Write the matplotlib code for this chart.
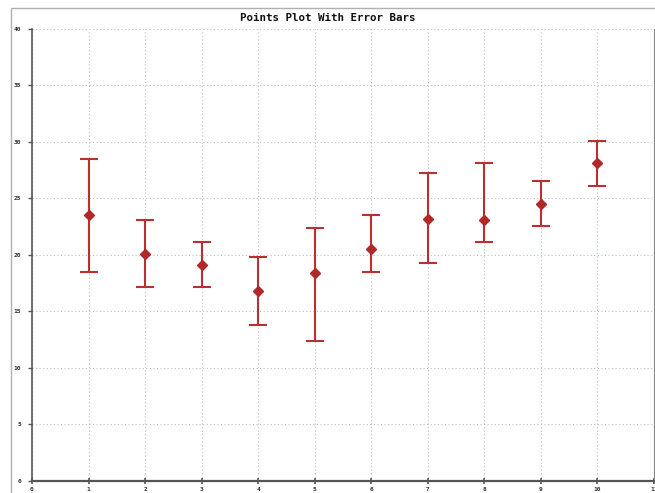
import matplotlib
matplotlib.use("Agg")
import matplotlib.pyplot as plt
import numpy as np
from matplotlib.patches import Rectangle

x = [1, 2, 3, 4, 5, 6, 7, 8, 9, 10]
y = [23.5, 20.05, 19.1, 16.8, 18.4, 20.5, 23.2, 23.1, 24.5, 28.1]
upper = [28.5, 23.1, 21.1, 19.8, 22.4, 23.5, 27.2, 28.1, 26.5, 30.1]
lower = [18.5, 17.15, 17.15, 13.8, 12.4, 18.5, 19.3, 21.1, 22.5, 26.1]
xticks = list(range(0, 12))
yticks = list(range(0, 45, 5))
title = "Points Plot With Error Bars"

W, H = 655, 493
fig = plt.figure(figsize=(W / 100, H / 100), dpi=100)
fig.patch.set_facecolor("white")
fig.add_artist(Rectangle((11 / W, -0.01), 1.0, (H - 8) / H + 0.01, transform=fig.transFigure,
                         fill=False, edgecolor="#b0b0b0", linewidth=1.0))

ax = fig.add_axes([32 / W, (H - 480.7) / H, 622 / W, 452 / H])
ax.set_facecolor("white")

yerr = [np.array(y) - np.array(lower), np.array(upper) - np.array(y)]
ax.errorbar(x, y, yerr=yerr, fmt="D", color="#b02828", ecolor="#b83030",
            markersize=4.6, elinewidth=1.5, capsize=6.2, capthick=1.5, zorder=3)

ax.set_xlim(0, 11)
ax.set_ylim(0, 40)
ax.set_xticks(xticks)
ax.set_yticks(yticks)
ax.set_xticklabels([str(t) for t in xticks], fontsize=4.5, color="#333333",
                   family="DejaVu Sans Mono", fontweight="bold")
ax.set_yticklabels([str(t) for t in yticks], fontsize=4.5, color="#333333",
                   family="DejaVu Sans Mono", fontweight="bold")
ax.grid(True, color="#b8c2c2", linestyle=(0, (1, 2.2)), linewidth=0.8)
ax.set_axisbelow(True)

ax.spines["top"].set_visible(False)
ax.spines["right"].set_color("#888888")
ax.spines["left"].set_color("#555555")
ax.spines["left"].set_linewidth(1.2)
ax.spines["bottom"].set_color("#555555")
ax.spines["bottom"].set_linewidth(1.6)
ax.tick_params(axis="y", direction="out", length=3, width=1, color="#555555", pad=5)
ax.tick_params(axis="x", direction="inout", length=5, width=1.2, color="#555555", pad=2)
ax.tick_params(axis="both", right=False)

fig.text(0.5, (H - 18) / H, title, ha="center", va="center", fontsize=7.8,
         fontweight="bold", family="DejaVu Sans Mono", color="#111111")

fig.savefig("out.png", dpi=100, facecolor="white")
